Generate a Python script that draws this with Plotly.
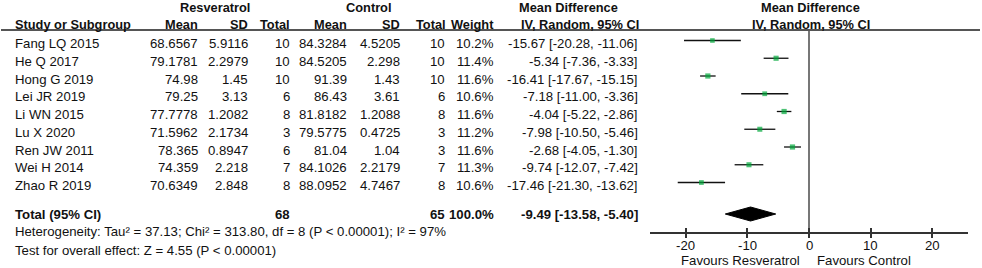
import plotly.graph_objects as go

# ---------------- data ----------------
studies = ["Fang LQ 2015", "He Q 2017", "Hong G 2019", "Lei JR 2019", "Li WN 2015",
           "Lu X 2020", "Ren JW 2011", "Wei H 2014", "Zhao R 2019"]
res_mean = [68.6567, 79.1781, 74.98, 79.25, 77.7778, 71.5962, 78.365, 74.359, 70.6349]
res_sd = [5.9116, 2.2979, 1.45, 3.13, 1.2082, 2.1734, 0.8947, 2.218, 2.848]
res_n = [10, 10, 10, 6, 8, 3, 6, 7, 8]
ctl_mean = [84.3284, 84.5205, 91.39, 86.43, 81.8182, 79.5775, 81.04, 84.1026, 88.0952]
ctl_sd = [4.5205, 2.298, 1.43, 3.61, 1.2088, 0.4725, 1.04, 2.2179, 4.7467]
ctl_n = [10, 10, 10, 6, 8, 3, 3, 7, 8]
weight = [10.2, 11.4, 11.6, 10.6, 11.6, 11.2, 11.6, 11.3, 10.6]
md = [-15.67, -5.34, -16.41, -7.18, -4.04, -7.98, -2.68, -9.74, -17.46]
ci_lo = [-20.28, -7.36, -17.67, -11.00, -5.22, -10.50, -4.05, -12.07, -21.30]
ci_hi = [-11.06, -3.33, -15.15, -3.36, -2.86, -5.46, -1.30, -7.42, -13.62]

total_res_n = 68
total_ctl_n = 65
total_weight = "100.0%"
total_md = -9.49
total_lo = -13.58
total_hi = -5.40
heterogeneity = "Heterogeneity: Tau² = 37.13; Chi² = 313.80, df = 8 (P < 0.00001); I² = 97%"
overall = "Test for overall effect: Z = 4.55 (P < 0.00001)"
tick_vals = [-20, -10, 0, 10, 20]
favours_left = "Favours Resveratrol"
favours_right = "Favours Control"

# ---------------- layout helpers ----------------
W, H = 982, 268
FONT = "Liberation Sans, Arial, sans-serif"
FS = 13.2
FSH = 12.8
ROW0, ROWSTEP = 43.5, 17.75
Y_TOTAL, Y_HET, Y_TEST = 214, 232, 250
Y_H1, Y_H2 = 7, 24
LINE_Y = 30
AXIS_Y = 232
MARK_OFF = 3

def px(x):
    return x / W

def py(y):
    return 1 - y / H

annotations = []

def txt(s, x, y, anchor="right", bold=False, size=FS):
    t = f"<b>{s}</b>" if bold else s
    annotations.append(dict(text=t, x=px(x), y=py(y), xref="paper", yref="paper",
                            xanchor=anchor, yanchor="middle", showarrow=False,
                            font=dict(family=FONT, size=size, color="#111111")))

def fmt_ci(m, l, h):
    return f"{m:.2f} [{l:.2f}, {h:.2f}]"

# headers
txt("Resveratrol", 215, Y_H1, "center", True, FSH)
txt("Control", 369, Y_H1, "center", True, FSH)
txt("Mean Difference", 568, Y_H1, "center", True, FSH)
txt("Mean Difference", 810, Y_H1, "center", True, FSH)
txt("Study or Subgroup", 13, Y_H2, "left", True, FSH)
for s, x in [("Mean", 200), ("SD", 250), ("Total", 292), ("Mean", 349),
             ("SD", 402), ("Total", 448), ("Weight", 496)]:
    txt(s, x, Y_H2, "right", True, FSH)
txt("IV, Random, 95% CI", 641, Y_H2, "right", True, FSH)
txt("IV, Random, 95% CI", 811, Y_H2, "center", True, FSH)

# rows
row_y = [ROW0 + i * ROWSTEP for i in range(len(studies))]
for i, s in enumerate(studies):
    y = row_y[i]
    txt(s, 13, y, "left")
    txt(str(res_mean[i]), 200, y)
    txt(str(res_sd[i]), 250, y)
    txt(str(res_n[i]), 292, y)
    txt(str(ctl_mean[i]), 349, y)
    txt(str(ctl_sd[i]), 402, y)
    txt(str(ctl_n[i]), 447, y)
    txt(f"{weight[i]:.1f}%", 496, y)
    txt(fmt_ci(md[i], ci_lo[i], ci_hi[i]), 640, y)

# total rows
txt("Total (95% CI)", 13, Y_TOTAL, "left", True)
txt(str(total_res_n), 292, Y_TOTAL, "right", True)
txt(str(total_ctl_n), 447, Y_TOTAL, "right", True)
txt(total_weight, 496, Y_TOTAL, "right", True)
txt(fmt_ci(total_md, total_lo, total_hi), 640, Y_TOTAL, "right", True)
txt(heterogeneity, 13, Y_HET, "left")
txt(overall, 13, Y_TEST, "left")
txt(favours_left, 802, 260, "right")
txt(favours_right, 815, 260, "left")

# tick labels placed just under the axis line
for v in tick_vals:
    annotations.append(dict(text=str(v), x=v, xref="x", y=py(245), yref="paper",
                            xanchor="center", yanchor="middle", showarrow=False,
                            font=dict(family=FONT, size=FS, color="#111111")))

# ---------------- plot traces ----------------
fig = go.Figure()

# CI lines
lx, ly = [], []
for i in range(len(studies)):
    yy = row_y[i] - MARK_OFF
    lx += [ci_lo[i], ci_hi[i], None]
    ly += [yy, yy, None]
fig.add_trace(go.Scatter(x=lx, y=ly, mode="lines", line=dict(color="#111111", width=1.3),
                         hoverinfo="skip", showlegend=False))

# squares
fig.add_trace(go.Scatter(x=md, y=[y - MARK_OFF for y in row_y], mode="markers",
                         marker=dict(symbol="square", color="#00a83a",
                                     size=[w * 0.45 for w in weight], line=dict(width=0)),
                         showlegend=False))

# diamond
dh = 7
fig.add_trace(go.Scatter(x=[total_lo, total_md, total_hi, total_md, total_lo],
                         y=[Y_TOTAL, Y_TOTAL - dh, Y_TOTAL, Y_TOTAL + dh, Y_TOTAL],
                         mode="lines", fill="toself", fillcolor="#000000",
                         line=dict(color="#000000", width=1), showlegend=False))

x0, x1 = 650, 968
fig.update_layout(
    width=W, height=H, margin=dict(l=0, r=0, t=0, b=0),
    paper_bgcolor="white", plot_bgcolor="rgba(0,0,0,0)",
    annotations=annotations,
    xaxis=dict(domain=[px(x0), px(x1)], range=[-25.8, 25.8], showgrid=False,
               zeroline=True, zerolinecolor="#777777", zerolinewidth=1.5,
               showline=True, linecolor="#333333", linewidth=1.5,
               tickmode="array", tickvals=tick_vals, ticks="outside", ticklen=4,
               tickcolor="#333333", tickwidth=1.5, showticklabels=False, anchor="y"),
    xaxis2=dict(domain=[px(x0), px(x1)], range=[-25.8, 25.8], overlaying="x", anchor="y",
                side="bottom", showgrid=False, zeroline=False, showline=False,
                tickmode="array", tickvals=tick_vals, ticks="inside", ticklen=4,
                tickcolor="#333333", tickwidth=1.5, showticklabels=False),
    yaxis=dict(domain=[py(AXIS_Y), py(LINE_Y)], range=[AXIS_Y, LINE_Y], visible=False),
    shapes=[dict(type="line", xref="paper", yref="paper", x0=px(1), x1=px(980),
                 y0=py(LINE_Y), y1=py(LINE_Y), line=dict(color="#555555", width=2))],
)
fig.add_trace(go.Scatter(x=[None], y=[None], xaxis="x2", yaxis="y", showlegend=False))

fig.write_html("out.html", config={"displayModeBar": False},
               post_script="document.body.style.margin='0';")
